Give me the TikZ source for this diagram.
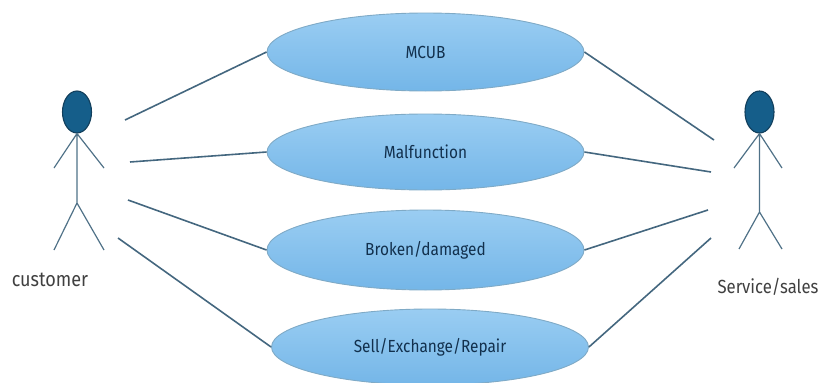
\documentclass[tikz,border=0pt]{standalone}
\usepackage{fontspec}
\setmainfont[FakeStretch=0.88]{Fira Sans}
\usetikzlibrary{shapes.geometric}
\definecolor{limb}{HTML}{4F7187}
\definecolor{headfill}{HTML}{155E8A}
\definecolor{headline}{HTML}{123F5C}
\definecolor{linkc}{HTML}{44677F}
\definecolor{ovaltop}{HTML}{9ACDF2}
\definecolor{ovalbot}{HTML}{74B6E8}
\definecolor{ovalline}{HTML}{7FAAC6}
\definecolor{ovaltxt}{HTML}{12304D}
\tikzset{
 x=1pt,y=-1pt,
 usecase/.style={ellipse,draw=ovalline,line width=.9pt,top color=ovaltop,bottom color=ovalbot,inner sep=0pt,minimum width=317pt,text=ovaltxt,font=\fontsize{17.5}{19}\selectfont},
 head/.style={ellipse,draw=headline,line width=1.1pt,fill=headfill,minimum width=29pt,minimum height=42pt,inner sep=0pt},
 limbline/.style={draw=limb,line width=1.2pt},
 link/.style={draw=linkc,line width=1.6pt},
 lbl/.style={text=black!75,inner sep=0pt}
}
\begin{document}
\begin{tikzpicture}
\useasboundingbox (0,0) rectangle (820,383);
\node[usecase,minimum height=78pt] (u1) at (425.5,52) {MCUB};
\node[usecase,minimum height=76pt] (u2) at (425.5,152) {Malfunction};
\node[usecase,minimum height=80pt] (u3) at (425.5,250) {Broken/damaged};
\node[usecase,minimum height=76pt] (u4) at (430,347) {Sell/Exchange/Repair};
% customer
\node[head] (h1) at (77,112) {};
\coordinate (hip1) at (77,203);
\coordinate (al1) at (54,168);
\coordinate (ar1) at (104,168);
\coordinate (ll1) at (54,250);
\coordinate (lr1) at (104,250);
\draw[limbline] (h1.south) -- (hip1) (h1.south) -- (al1) (h1.south) -- (ar1) (hip1) -- (ll1) (hip1) -- (lr1);
\node[lbl,font=\fontsize{20.5}{22}\selectfont] (c) at (50,280) {customer};
% service
\node[head] (h2) at (759.5,112) {};
\coordinate (hip2) at (759.5,212);
\coordinate (al2) at (734,168);
\coordinate (ar2) at (782,168);
\coordinate (ll2) at (739,249);
\coordinate (lr2) at (782,249);
\draw[limbline] (h2.south) -- (hip2) (h2.south) -- (al2) (h2.south) -- (ar2) (hip2) -- (ll2) (hip2) -- (lr2);
\node[lbl,font=\fontsize{19}{21}\selectfont] (s) at (768,287) {Service/sales};
% connectors
\coordinate (a1) at (125,120);
\coordinate (a2) at (130,162);
\coordinate (a3) at (128,200);
\coordinate (a4) at (118,238);
\coordinate (b1) at (714,140);
\coordinate (b2) at (711,172);
\coordinate (b3) at (708,210);
\coordinate (b4) at (711,238);
\draw[link] (a1) -- (u1.west);
\draw[link] (a2) -- (u2.west);
\draw[link] (a3) -- (u3.west);
\draw[link] (a4) -- (u4.west);
\draw[link] (b1) -- (u1.east);
\draw[link] (b2) -- (u2.east);
\draw[link] (b3) -- (u3.east);
\draw[link] (b4) -- (u4.east);
\end{tikzpicture}
\end{document}
